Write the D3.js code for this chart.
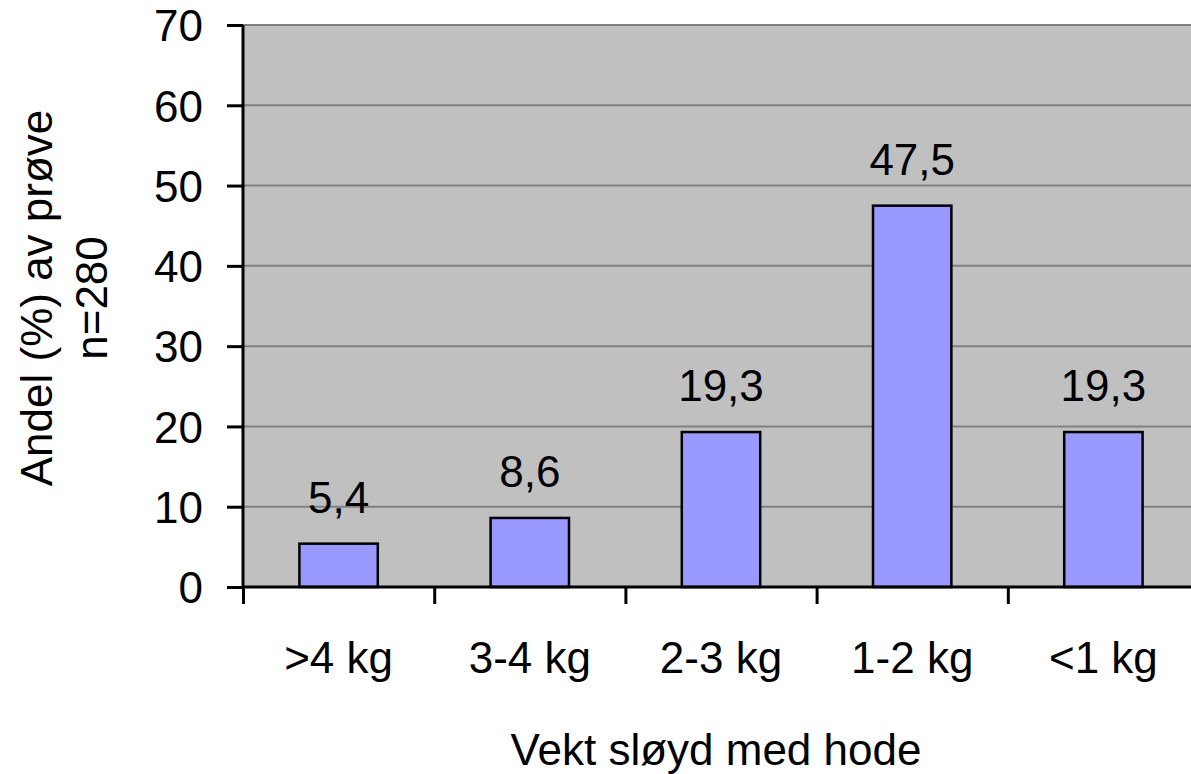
<!DOCTYPE html>
<html>
<head>
<meta charset="utf-8">
<script src="https://cdn.jsdelivr.net/npm/d3@7"></script>
<style>
  html, body { margin: 0; padding: 0; background: #ffffff; }
  svg text { font-family: "Liberation Sans", Arial, sans-serif; fill: #000; }
</style>
</head>
<body>
<svg id="chart" width="1191" height="774"></svg>
<script>
const categories = [">4 kg", "3-4 kg", "2-3 kg", "1-2 kg", "<1 kg"];
const values = [5.4, 8.6, 19.3, 47.5, 19.3];
const valueLabels = ["5,4", "8,6", "19,3", "47,5", "19,3"];
const yTicks = [0, 10, 20, 30, 40, 50, 60, 70];
const xTitle = "Vekt sløyd med hode";
const yTitleLines = ["Andel (%) av prøve", "n=280"];

const svg = d3.select("#chart");
const pLeft = 243, pRight = 1199, pTop = 25, pBottom = 587;
const fontSize = 44;

const x = d3.scaleBand().domain(categories).range([pLeft, pRight]).paddingInner(0.59).paddingOuter(0.295);
const xb = d3.scaleLinear().domain([0, categories.length]).range([pLeft, pRight]);
const y = d3.scaleLinear().domain([0, 70]).range([pBottom, pTop]);

// plot background
svg.append("rect").attr("x", pLeft).attr("y", pTop).attr("width", pRight - pLeft).attr("height", pBottom - pTop).attr("fill", "#c0c0c0");

// gridlines
svg.append("g").selectAll("line").data(yTicks.filter(d => d > 0)).join("line")
  .attr("x1", pLeft).attr("x2", pRight)
  .attr("y1", d => y(d)).attr("y2", d => y(d))
  .attr("stroke", "#808080").attr("stroke-width", 2);

// bars
svg.append("g").selectAll("rect").data(values).join("rect")
  .attr("x", (d, i) => x(categories[i]))
  .attr("y", d => y(d))
  .attr("width", x.bandwidth())
  .attr("height", d => y(0) - y(d))
  .attr("fill", "#9999ff").attr("stroke", "#000").attr("stroke-width", 2.5);

// value labels
svg.append("g").selectAll("text").data(values).join("text")
  .attr("x", (d, i) => x(categories[i]) + x.bandwidth() / 2)
  .attr("y", d => y(d) - 31)
  .attr("text-anchor", "middle")
  .style("font-size", fontSize + "px")
  .text((d, i) => valueLabels[i]);

// y axis
const yAxis = svg.append("g").attr("transform", `translate(${pLeft},0)`)
  .call(d3.axisLeft(y).tickValues(yTicks).tickSize(16).tickPadding(24).tickFormat(d3.format("d")));
yAxis.select(".domain").attr("stroke", "#000").attr("stroke-width", 3).attr("d", `M0,${pTop}V${pBottom}`);
yAxis.selectAll(".tick line").attr("stroke", "#000").attr("stroke-width", 3);
yAxis.selectAll(".tick text").style("font-size", fontSize + "px").attr("font-family", null).attr("dy", "0.36em");

// x axis boundary ticks
const xAxis = svg.append("g").attr("transform", `translate(0,${pBottom})`)
  .call(d3.axisBottom(xb).tickValues(d3.range(categories.length + 1)).tickSize(17).tickFormat(""));
xAxis.select(".domain").attr("stroke", "#000").attr("stroke-width", 3).attr("d", `M${pLeft},0H${pRight}`);
xAxis.selectAll(".tick line").attr("stroke", "#000").attr("stroke-width", 3);

// x category labels
const xLab = svg.append("g").attr("transform", `translate(0,${pBottom})`)
  .call(d3.axisBottom(x).tickSize(0).tickPadding(0));
xLab.select(".domain").remove();
xLab.selectAll(".tick text").style("font-size", fontSize + "px").attr("font-family", null)
  .attr("dy", null).attr("y", 86);

// x title
svg.append("text").attr("x", 716).attr("y", 765).attr("text-anchor", "middle")
  .style("font-size", fontSize + "px").text(xTitle);

// y title
const yt = svg.append("text").attr("transform", "translate(52,298) rotate(-90)").attr("text-anchor", "middle")
  .style("font-size", fontSize + "px");
yt.append("tspan").attr("x", 0).attr("y", 0).text(yTitleLines[0]);
yt.append("tspan").attr("x", 0).attr("y", 55).text(yTitleLines[1]);
</script>
</body>
</html>
